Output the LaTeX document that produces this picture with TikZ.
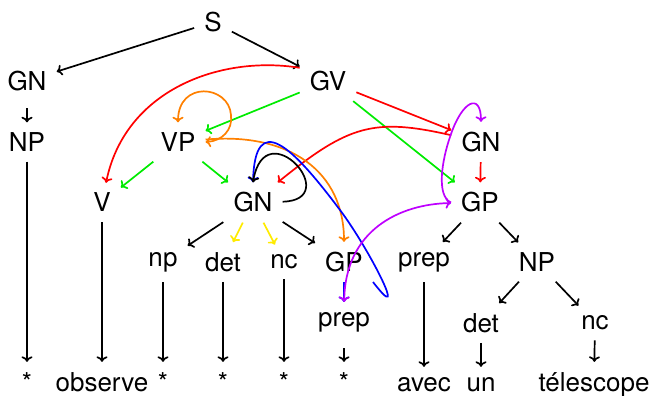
\documentclass[tikz,border=0pt]{standalone}
\usepackage{fontspec}
\setmainfont{TeX Gyre Heros}
\usetikzlibrary{arrows.meta}
\definecolor{cred}{RGB}{255,0,0}
\definecolor{cgreen}{RGB}{0,235,0}
\definecolor{corange}{RGB}{255,128,0}
\definecolor{cyellow}{RGB}{255,235,0}
\definecolor{cblue}{RGB}{0,0,255}
\definecolor{cpurple}{RGB}{190,0,255}
\begin{document}
\begin{tikzpicture}[x=1pt,y=-1pt,
  lbl/.style={inner sep=10pt, font=\fontsize{26}{30}\selectfont},
  leaf/.style={inner sep=0pt, font=\fontsize{26}{30}\selectfont, anchor=base},
  tip/.style={Computer Modern Rightarrow[length=5.5pt,width=11pt]},
  edge/.style={line width=1.7pt, -{Computer Modern Rightarrow[length=5.5pt,width=11pt]}},
  toleaf/.style={edge, shorten >=10pt},
  twoway/.style={line width=1.7pt, {Computer Modern Rightarrow[length=5.5pt,width=11pt]}-{Computer Modern Rightarrow[length=5.5pt,width=11pt]}},
]
\useasboundingbox (0,0) rectangle (653,396);
% nodes
\node[lbl] (S) at (213,22) {S};
\node[lbl] (GNl) at (27,81) {GN};
\node[lbl] (GV) at (328,81) {GV};
\node[lbl] (NPl) at (27,142) {NP};
\node[lbl] (VP) at (178,142) {VP};
\node[lbl] (GNr) at (481,142) {GN};
\node[lbl] (V) at (102,202.5) {V};
\node[lbl] (GNm) at (253,202.5) {GN};
\node[lbl] (GPr) at (480,202.5) {GP};
\node[lbl] (np) at (163,262) {np};
\node[lbl] (det) at (223,262) {det};
\node[lbl] (nc) at (284,262) {nc};
\node[lbl] (GPm) at (344,262) {GP};
\node[lbl] (prepr) at (424,262) {prep};
\node[lbl] (NPr) at (537,262) {NP};
\node[lbl] (prepm) at (344,322) {prep};
\node[lbl] (detr) at (481,323) {det};
\node[lbl] (ncr) at (595,323) {nc};
\node[leaf] (s1) at (27,391) {*};
\node[leaf] (obs) at (102,391) {observe};
\node[leaf] (s2) at (163,391) {*};
\node[leaf] (s3) at (223,391) {*};
\node[leaf] (s4) at (284,391) {*};
\node[leaf] (s5) at (344,391) {*};
\node[leaf] (avec) at (424,391) {avec};
\node[leaf] (un) at (481,391) {un};
\node[leaf] (tel) at (594,391) {télescope};
\coordinate (bs) at (373,282);
% tree edges
\draw[edge] (S) -- (GNl);
\draw[edge] (S) -- (GV);
\draw[edge, shorten <=7pt] (GNl) -- (NPl);
\draw[toleaf] (NPl) -- (s1);
\draw[edge,cgreen] (GV) -- (VP);
\draw[edge,cred] (GV) -- (GNr);
\draw[edge,cgreen] (GV) -- (GPr);
\draw[edge,cgreen] (VP) -- (V);
\draw[edge,cgreen] (VP) -- (GNm);
\draw[edge,cred] (GNr) -- (GPr);
\draw[toleaf] (V) -- (obs);
\draw[edge] (GNm) -- (np);
\draw[edge,cyellow] (GNm) -- (det);
\draw[edge,cyellow] (GNm) -- (nc);
\draw[edge] (GNm) -- (GPm);
\draw[edge] (GPr) -- (prepr);
\draw[edge] (GPr) -- (NPr);
\draw[toleaf] (np) -- (s2);
\draw[toleaf] (det) -- (s3);
\draw[toleaf] (nc) -- (s4);
\draw[edge,cblue] (GPm) -- (prepm);
\draw[toleaf, shorten <=6pt] (prepm) -- (s5);
\draw[toleaf] (prepr) -- (avec);
\draw[edge] (NPr) -- (detr);
\draw[edge] (NPr) -- (ncr);
\draw[toleaf] (detr) -- (un);
\draw[toleaf] (ncr) -- (tel);
% curved edges
\draw[edge,cred] (GV.155) .. controls (220,55) and (125,90) .. (V);
\draw[edge,cred] (GNr) .. controls (374,117.6) and (348.7,124.8) .. (GNm);
\draw[twoway,corange] (VP.east) .. controls (222,141) and (233,130) .. (231,115) .. controls (229,85) and (178,80) .. (VP.north);
\draw[edge,corange] (VP) .. controls (290,132) and (344,172) .. (GPm);
\draw[edge,cblue] (bs) .. controls (410,330) and (370,250) .. (340,210) .. controls (292,146) and (255,110) .. (GNm.north);
\draw[edge] (GNm) .. controls (345,200) and (265,110) .. (GNm.north);
\draw[edge,cpurple] (GPr.west) .. controls (436,196) and (442,160) .. (450,137) .. controls (462,100) and (481,92) .. (GNr.north);
\draw[twoway,cpurple] (GPr) .. controls (400,204) and (345,230) .. (prepm);
\end{tikzpicture}
\end{document}
